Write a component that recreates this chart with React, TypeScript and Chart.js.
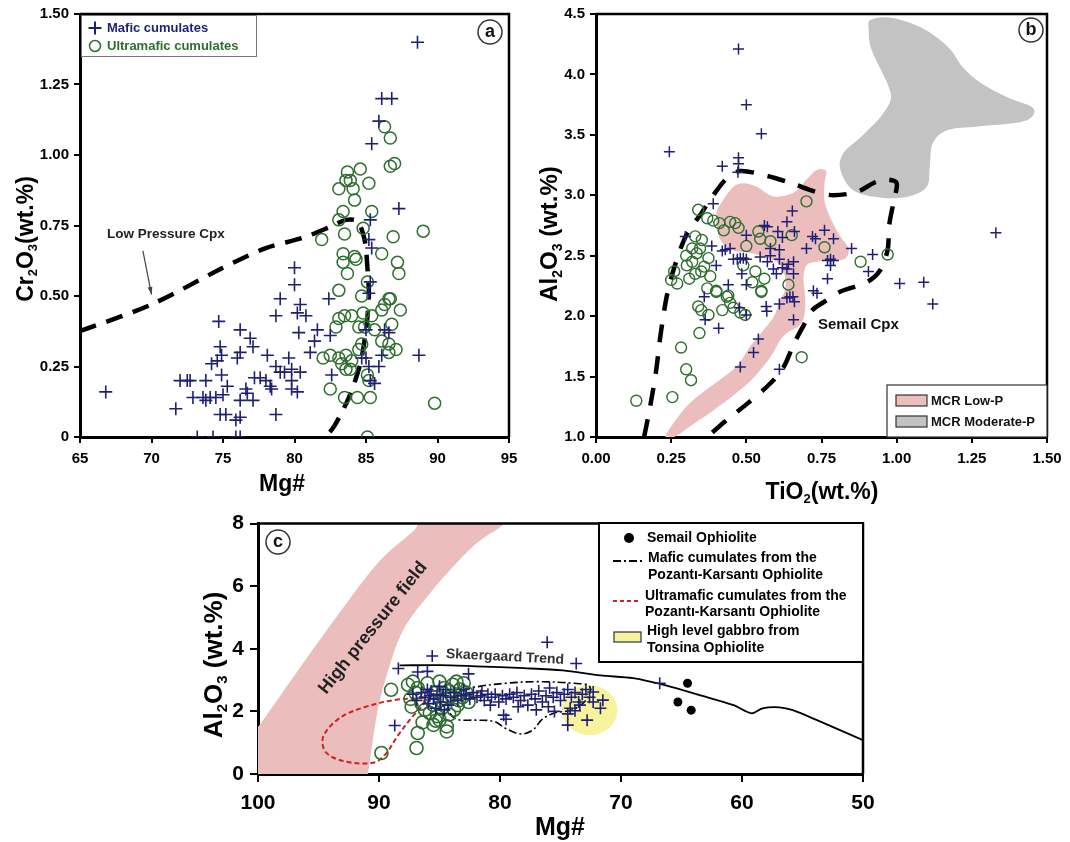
import React, { useEffect, useRef } from 'react';
import { Chart, registerables } from 'chart.js';
Chart.register(...registerables);

const FONT = '"Liberation Sans", Arial, Helvetica, sans-serif';
const NAVY = '#1f1f75';
const GREEN = '#2e6e2e';
const PINK = '#ebbdbd';
const GRAY = '#c3c3c3';
const YELLOW = '#f6f39c';
const RED = '#cc2222';

// ---------------- Panel a : Cr2O3 vs Mg# ----------------
const A_MAFIC: [number, number][] = [
  [66.8, 0.16], [71.7, 0.1], [72.0, 0.2], [72.5, 0.2], [72.7, 0.2], [73.8, 0.2], [72.9, 0.14], [73.6, 0.14],
  [74.1, 0.14], [74.5, 0.14], [73.8, 0.13], [74.2, 0.26], [74.6, 0.27], [74.7, 0.41], [74.8, 0.32], [74.9, 0.29],
  [74.9, 0.22], [75.3, 0.18], [75.0, 0.15], [74.8, 0.08], [75.2, 0.08], [73.2, 0], [74.3, 0], [75.9, 0], [76.2, 0],
  [75.9, 0.06], [76.2, 0.07], [76.2, 0.13], [76.0, 0.28], [76.2, 0.38], [76.2, 0.3], [76.9, 0.35], [77.1, 0.32],
  [76.6, 0.17], [76.7, 0.155], [77.1, 0.13], [77.2, 0.21], [77.6, 0.21], [78.1, 0.29], [78.0, 0.2], [78.4, 0.17],
  [78.3, 0.18], [78.7, 0.08], [78.7, 0.43], [79.0, 0.49], [80.0, 0.54], [80.0, 0.6], [78.7, 0.25], [79.0, 0.23],
  [79.3, 0.23], [79.6, 0.28], [79.8, 0.24], [79.8, 0.2], [79.8, 0.17], [80.2, 0.16], [80.4, 0.23], [80.3, 0.37],
  [80.2, 0.44], [80.4, 0.47], [80.8, 0.43], [81.1, 0.3], [81.4, 0.34], [81.6, 0.38], [82.4, 0.49], [82.5, 0.36],
  [82.6, 0.22], [85.2, 0.51], [85.3, 0.55], [85.0, 0.38], [84.7, 0.28], [85.2, 0.25], [85.9, 0.25], [85.3, 0.2],
  [85.6, 0.19], [85.0, 0.28], [86.1, 0.29], [86.6, 0.37], [86.3, 0.38], [88.7, 0.29], [88.6, 1.4], [86.1, 1.2],
  [86.8, 1.2], [85.9, 1.12], [85.4, 1.04], [87.3, 0.81], [85.3, 0.77], [85.2, 0.7], [85.4, 0.67],
];
const A_ULTRA: [number, number][] = [
  [86.3, 1.1], [86.7, 1.06], [86.7, 0.96], [87.0, 0.97], [83.7, 0.94], [84.6, 0.95], [83.6, 0.91], [83.9, 0.91],
  [83.1, 0.88], [84.1, 0.88], [85.2, 0.9], [84.2, 0.84], [83.4, 0.8], [85.4, 0.8], [83.1, 0.77], [84.8, 0.74],
  [83.5, 0.72], [81.9, 0.7], [86.9, 0.71], [89.0, 0.73], [83.4, 0.65], [84.2, 0.64], [84.3, 0.63], [86.1, 0.65],
  [83.4, 0.62], [87.2, 0.62], [83.7, 0.58], [85.1, 0.55], [87.3, 0.58], [83.1, 0.52], [84.7, 0.5], [86.6, 0.49],
  [86.7, 0.49], [86.3, 0.47], [87.4, 0.45], [86.1, 0.45], [83.5, 0.43], [84.0, 0.43], [83.1, 0.42], [84.8, 0.44],
  [85.4, 0.43], [84.5, 0.39], [84.9, 0.39], [85.6, 0.38], [86.8, 0.4], [82.9, 0.39], [84.7, 0.33], [86.1, 0.34],
  [86.6, 0.33], [87.1, 0.31], [86.6, 0.3], [84.5, 0.31], [82.0, 0.28], [82.5, 0.29], [83.1, 0.28], [83.6, 0.29],
  [84.0, 0.27], [83.6, 0.24], [83.9, 0.24], [83.3, 0.26], [82.5, 0.17], [83.5, 0.14], [84.4, 0.14], [85.3, 0.14],
  [85.2, 0.2], [85.1, 0.22], [89.8, 0.12], [85.1, 0],
];
const A_LOWP_CPX: [number, number][] = [
  [65, 0.375], [70, 0.47], [75, 0.6], [78, 0.67], [80.5, 0.705], [82.5, 0.745], [83.6, 0.77], [84.4, 0.765],
  [84.9, 0.7], [85.1, 0.6], [85.2, 0.5], [85.0, 0.38], [84.6, 0.26], [83.8, 0.14], [82.8, 0.04], [82.2, 0],
];
const A_ARROW: [number, number][] = [[69.4, 0.66], [70.0, 0.505]];
const A_X_TICKS = [65, 70, 75, 80, 85, 90, 95];
const A_X_LABELS = ['65', '70', '75', '80', '85', '90', '95'];
const A_Y_TICKS = [0, 0.25, 0.5, 0.75, 1.0, 1.25, 1.5];
const A_Y_LABELS = ['0', '0.25', '0.50', '0.75', '1.00', '1.25', '1.50'];

// ---------------- Panel b : Al2O3 vs TiO2 ----------------
const B_MAFIC: [number, number][] = [
  [0.474, 4.21], [0.5, 3.75], [0.55, 3.51], [0.244, 3.36], [0.474, 3.31], [0.42, 3.24], [0.474, 3.26], [0.472, 3.19],
  [0.653, 2.87], [0.635, 2.78], [0.66, 2.7], [0.76, 2.71], [0.79, 2.64], [0.73, 2.64], [0.7, 2.56], [0.85, 2.56],
  [0.92, 2.51], [1.33, 2.69], [1.01, 2.27], [1.09, 2.28], [0.906, 2.37], [0.77, 2.46], [0.78, 2.42], [0.79, 2.46],
  [0.77, 2.31], [0.39, 2.93], [0.297, 2.66], [0.385, 2.58], [0.42, 2.54], [0.43, 2.55], [0.446, 2.56], [0.457, 2.47],
  [0.47, 2.47], [0.48, 2.48], [0.49, 2.48], [0.5, 2.47], [0.5, 2.67], [0.56, 2.75], [0.605, 2.7], [0.58, 2.56],
  [0.61, 2.55], [0.546, 2.49], [0.57, 2.45], [0.59, 2.39], [0.6, 2.35], [0.635, 2.39], [0.657, 2.45], [0.4, 2.42],
  [0.44, 2.26], [0.485, 2.35], [0.5, 2.26], [0.657, 2.35], [0.36, 2.16], [0.723, 2.21], [0.735, 2.19], [0.645, 2.16],
  [0.655, 2.16], [1.12, 2.1], [0.363, 1.97], [0.408, 1.9], [0.477, 2.07], [0.5, 2.01], [0.566, 2.08], [0.568, 2.04],
  [0.61, 2.1], [0.635, 2.15], [0.66, 2.12], [0.657, 1.97], [0.54, 1.81], [0.524, 1.7], [0.48, 1.58], [0.61, 1.56],
  [0.58, 2.5], [0.61, 2.47], [0.62, 2.4], [0.64, 2.43], [0.57, 2.74], [0.62, 2.65], [0.72, 2.66], [0.78, 2.47],
];
const B_ULTRA: [number, number][] = [
  [0.7, 2.95], [0.34, 2.88], [0.37, 2.81], [0.39, 2.79], [0.41, 2.77], [0.425, 2.71], [0.446, 2.78], [0.463, 2.77],
  [0.474, 2.73], [0.54, 2.7], [0.546, 2.64], [0.651, 2.67], [0.33, 2.66], [0.352, 2.63], [0.32, 2.56], [0.335, 2.52],
  [0.346, 2.56], [0.374, 2.48], [0.302, 2.42], [0.26, 2.37], [0.25, 2.3], [0.27, 2.27], [0.31, 2.31], [0.35, 2.37],
  [0.36, 2.41], [0.5, 2.58], [0.49, 2.42], [0.53, 2.37], [0.56, 2.31], [0.55, 2.2], [0.64, 2.26], [0.76, 2.57],
  [0.88, 2.45], [0.97, 2.51], [0.37, 2.23], [0.4, 2.2], [0.44, 2.17], [0.34, 2.08], [0.35, 2.05], [0.374, 2.01],
  [0.4, 2.21], [0.435, 2.16], [0.446, 2.11], [0.42, 2.05], [0.457, 2.07], [0.48, 2.03], [0.496, 2.01], [0.55, 2.21],
  [0.344, 1.86], [0.283, 1.74], [0.3, 1.56], [0.316, 1.47], [0.254, 1.33], [0.134, 1.3], [0.684, 1.66],
  [0.3, 2.5], [0.32, 2.45], [0.33, 2.35], [0.38, 2.33], [0.52, 2.28], [0.58, 2.62],
];
const B_SEMAIL_CPX: [number, number][] = [
  [0.16, 1.0], [0.18, 1.25], [0.2, 1.55], [0.215, 1.85], [0.235, 2.16], [0.26, 2.4], [0.3, 2.67], [0.35, 2.85],
  [0.39, 3.0], [0.435, 3.14], [0.48, 3.2], [0.57, 3.16], [0.65, 3.1], [0.73, 3.03], [0.79, 3.0], [0.87, 3.03],
  [0.93, 3.11], [0.97, 3.13], [1.0, 3.1], [0.99, 2.95], [0.975, 2.75], [0.97, 2.55], [0.945, 2.38], [0.9, 2.28],
  [0.81, 2.2], [0.76, 2.12], [0.72, 2.05], [0.69, 1.92], [0.66, 1.78], [0.62, 1.56], [0.57, 1.42], [0.5, 1.27],
  [0.43, 1.13], [0.37, 1.0],
];
const B_MCR_LOWP: [number, number][] = [
  [0.4, 2.84], [0.42, 2.95], [0.457, 3.07], [0.49, 3.1], [0.535, 3.07], [0.59, 2.99], [0.657, 3.02], [0.7, 3.13],
  [0.734, 3.21], [0.765, 3.2], [0.76, 3.1], [0.76, 2.95], [0.78, 2.81], [0.81, 2.67], [0.84, 2.56], [0.83, 2.48],
  [0.79, 2.46], [0.734, 2.45], [0.7, 2.42], [0.69, 2.31], [0.695, 2.18], [0.695, 2.04], [0.68, 1.93], [0.635, 1.86],
  [0.61, 1.79], [0.58, 1.66], [0.524, 1.49], [0.47, 1.37], [0.39, 1.22], [0.325, 1.11], [0.26, 1.0], [0.23, 1.0],
  [0.28, 1.19], [0.335, 1.33], [0.41, 1.47], [0.47, 1.59], [0.51, 1.74], [0.546, 1.85], [0.59, 1.99], [0.61, 2.12],
  [0.63, 2.23], [0.625, 2.36], [0.6, 2.45], [0.52, 2.52], [0.45, 2.55], [0.41, 2.65],
];
const B_MCR_MODP: [number, number][] = [
  [0.913, 4.45], [0.98, 4.47], [1.08, 4.39], [1.17, 4.23], [1.22, 4.06], [1.28, 3.93], [1.37, 3.81], [1.45, 3.73],
  [1.45, 3.65], [1.4, 3.6], [1.27, 3.57], [1.17, 3.54], [1.12, 3.43], [1.11, 3.23], [1.1, 3.07], [1.04, 2.99],
  [0.95, 2.98], [0.857, 3.04], [0.813, 3.21], [0.823, 3.35], [0.88, 3.48], [0.947, 3.65], [0.98, 3.79],
  [0.973, 3.9], [0.947, 4.04], [0.913, 4.23], [0.907, 4.37],
];
const B_X_TICKS = [0, 0.25, 0.5, 0.75, 1.0, 1.25, 1.5];
const B_X_LABELS = ['0.00', '0.25', '0.50', '0.75', '1.00', '1.25', '1.50'];
const B_Y_TICKS = [1.0, 1.5, 2.0, 2.5, 3.0, 3.5, 4.0, 4.5];
const B_Y_LABELS = ['1.0', '1.5', '2.0', '2.5', '3.0', '3.5', '4.0', '4.5'];

// ---------------- Panel c : Al2O3 vs Mg# ----------------
const C_MAFIC: [number, number][] = [
  [88.4, 3.37], [85.6, 3.77], [86.8, 3.26], [86.0, 3.28], [82.6, 3.2], [76.1, 4.21], [73.7, 3.53], [66.8, 2.9],
  [88.7, 1.55], [79.7, 1.88], [79.5, 1.75], [74.4, 1.56], [72.8, 1.72], [71.7, 2.1], [71.5, 2.36], [72.3, 2.62],
  [74.4, 1.92], [73.8, 2.02], [73.4, 2.2], [74.2, 2.1],
  [87.2, 2.55], [86.9, 2.35], [86.5, 2.6], [86.2, 2.45], [85.9, 2.25], [85.7, 2.65], [85.5, 2.4], [85.3, 2.1],
  [85.2, 2.55], [85.0, 2.8], [84.9, 2.3], [84.7, 2.5], [84.5, 2.7], [84.3, 2.2], [84.1, 2.45], [83.8, 2.6],
  [83.5, 2.35], [83.2, 2.5], [82.8, 2.55], [82.5, 2.4], [82.2, 2.6], [81.9, 2.45], [81.6, 2.5], [81.3, 2.35],
  [81.0, 2.55], [80.7, 2.45], [80.4, 2.55], [80.1, 2.3], [79.8, 2.5], [79.5, 2.4], [79.2, 2.55], [78.9, 2.45],
  [78.6, 2.6], [78.3, 2.35], [78.0, 2.5], [77.7, 2.2], [77.4, 2.55], [77.1, 2.4], [76.8, 2.65], [76.5, 2.3],
  [76.2, 2.5], [75.9, 2.75], [75.6, 2.45], [75.3, 2.6], [75.0, 2.35], [74.7, 2.55], [74.4, 2.7], [74.1, 2.45],
  [73.8, 2.6], [73.5, 2.3], [73.2, 2.55], [72.9, 2.7], [72.6, 2.45], [72.3, 2.3], [76.0, 2.15], [77.0, 2.05],
  [75.5, 2.0], [78.5, 2.15], [80.8, 2.2], [81.5, 2.65], [83.0, 2.7], [84.6, 2.05], [85.8, 2.5], [86.0, 2.7],
];
const C_ULTRA: [number, number][] = [
  [89.0, 2.69], [89.8, 0.67], [86.9, 0.83], [86.8, 1.31], [85.5, 1.57], [84.4, 1.36], [84.4, 1.52], [85.0, 1.73],
  [87.6, 2.85], [87.2, 2.95], [87.0, 2.6], [87.4, 2.4], [86.8, 2.75], [86.5, 2.25], [86.2, 2.05], [85.8, 1.95],
  [85.5, 2.2], [85.2, 1.85], [84.8, 2.1], [84.5, 2.4], [84.2, 2.65], [83.9, 2.85], [83.6, 2.95], [83.3, 2.7],
  [83.1, 2.45], [83.5, 2.2], [83.8, 2.05], [84.0, 2.5], [83.0, 2.9], [82.8, 2.6], [84.6, 2.75], [85.0, 2.95],
  [86.0, 2.9], [85.4, 2.6], [84.9, 2.35], [83.4, 2.35], [82.6, 2.3], [84.2, 1.9], [85.3, 1.7], [86.4, 1.65],
  [87.3, 2.15],
];
const C_SEMAIL: [number, number][] = [[64.5, 2.9], [65.3, 2.3], [64.2, 2.04]];
const C_SKAERGAARD: [number, number][] = [
  [88.3, 3.47], [85, 3.48], [82, 3.44], [78, 3.38], [74.8, 3.31], [71.7, 3.15], [69, 3.06], [66.3, 2.83],
  [63.5, 2.52], [60.7, 2.2], [59.2, 1.94], [58.3, 2.1], [56.9, 2.13], [55.8, 2.04], [53.8, 1.72], [51.9, 1.4],
  [50, 1.08],
];
const C_PK_MAFIC: [number, number][] = [
  [84, 2.3], [83.2, 2.65], [81.7, 2.8], [79.5, 2.9], [77, 2.95], [74, 2.9], [72.6, 2.8], [72.8, 2.4], [74.0, 2.05],
  [75.5, 1.95], [76.5, 1.75], [77.3, 1.4], [78.3, 1.28], [79.5, 1.45], [80.5, 1.68], [82, 1.72], [83.6, 1.75],
  [84.2, 2.0], [84, 2.3],
];
const C_PK_ULTRA: [number, number][] = [
  [86.3, 2.42], [88.6, 2.37], [91.0, 2.16], [93.2, 1.8], [94.6, 1.2], [94.4, 0.7], [92.8, 0.4], [90.5, 0.36],
  [89.5, 0.62], [88.4, 1.25], [87.3, 1.8], [86.3, 2.25], [86.3, 2.42],
];
const C_HP_FIELD: [number, number][] = [
  [101, -0.5], [101, 1.0], [100, 1.5], [98.2, 2.48], [95.5, 3.96], [92.7, 5.45], [89.9, 6.83], [87.2, 7.75],
  [85.5, 8.4], [78.5, 8.6], [79.6, 8.0], [81.5, 7.5], [83.1, 6.94], [85.8, 5.77], [88, 4.6], [89.4, 3.11],
  [90.2, 1.84], [90.9, 0], [91.1, -0.5],
];
const C_TONSINA = { cx: 72.6, cy: 2.04, rx: 2.3, ry: 0.8 };
const C_X_TICKS = [100, 90, 80, 70, 60, 50];
const C_X_LABELS = ['100', '90', '80', '70', '60', '50'];
const C_Y_TICKS = [0, 2, 4, 6, 8];
const C_Y_LABELS = ['0', '2', '4', '6', '8'];

// ---------------- helpers ----------------
type Pt = [number, number];
const toXY = (arr: Pt[]) => arr.map(([x, y]) => ({ x, y }));

function catmull(ctx: CanvasRenderingContext2D, pts: Pt[], closed: boolean) {
  const n = pts.length;
  ctx.moveTo(pts[0][0], pts[0][1]);
  const last = closed ? n : n - 1;
  for (let i = 0; i < last; i++) {
    const p0 = closed ? pts[(i - 1 + n) % n] : pts[Math.max(i - 1, 0)];
    const p1 = pts[i % n];
    const p2 = pts[(i + 1) % n];
    const p3 = closed ? pts[(i + 2) % n] : pts[Math.min(i + 2, n - 1)];
    const t = 1 / 6;
    ctx.bezierCurveTo(
      p1[0] + (p2[0] - p0[0]) * t, p1[1] + (p2[1] - p0[1]) * t,
      p2[0] - (p3[0] - p1[0]) * t, p2[1] - (p3[1] - p1[1]) * t,
      p2[0], p2[1]);
  }
  if (closed) ctx.closePath();
}

function fillField(chart: any, pts: Pt[], color: string) {
  const { ctx, chartArea: a, scales } = chart;
  const pp: Pt[] = pts.map(([vx, vy]) => [scales.x.getPixelForValue(vx), scales.y.getPixelForValue(vy)]);
  ctx.save();
  ctx.beginPath();
  ctx.rect(a.left, a.top, a.right - a.left, a.bottom - a.top);
  ctx.clip();
  ctx.beginPath();
  catmull(ctx, pp, true);
  ctx.fillStyle = color;
  ctx.fill();
  ctx.restore();
}

function text(ctx: CanvasRenderingContext2D, s: string, x: number, y: number, size: number, color = '#000', align: CanvasTextAlign = 'left', rot = 0) {
  ctx.save();
  ctx.translate(x, y);
  if (rot) ctx.rotate(rot);
  ctx.font = `bold ${size}px ${FONT}`;
  ctx.fillStyle = color;
  ctx.textAlign = align;
  ctx.textBaseline = 'middle';
  ctx.fillText(s, 0, 0);
  ctx.restore();
}

type Part = [string, boolean];
function rich(ctx: CanvasRenderingContext2D, parts: Part[], cx: number, cy: number, size: number, rotate: boolean) {
  ctx.save();
  ctx.translate(cx, cy);
  if (rotate) ctx.rotate(-Math.PI / 2);
  const fMain = `bold ${size}px ${FONT}`;
  const fSub = `bold ${Math.round(size * 0.58)}px ${FONT}`;
  let w = 0;
  for (const [t, s] of parts) { ctx.font = s ? fSub : fMain; w += ctx.measureText(t).width; }
  let x = -w / 2;
  ctx.textAlign = 'left';
  ctx.textBaseline = 'alphabetic';
  ctx.fillStyle = '#000';
  const base = size * 0.35;
  for (const [t, s] of parts) {
    ctx.font = s ? fSub : fMain;
    ctx.fillText(t, x, s ? base + size * 0.18 : base);
    x += ctx.measureText(t).width;
  }
  ctx.restore();
}

function crossGlyph(ctx: CanvasRenderingContext2D, x: number, y: number, r: number, color: string, lw: number) {
  ctx.save(); ctx.strokeStyle = color; ctx.lineWidth = lw; ctx.beginPath();
  ctx.moveTo(x - r, y); ctx.lineTo(x + r, y); ctx.moveTo(x, y - r); ctx.lineTo(x, y + r); ctx.stroke(); ctx.restore();
}
function circleGlyph(ctx: CanvasRenderingContext2D, x: number, y: number, r: number, color: string, lw: number, fill?: string) {
  ctx.save(); ctx.beginPath(); ctx.arc(x, y, r, 0, Math.PI * 2);
  if (fill) { ctx.fillStyle = fill; ctx.fill(); }
  if (lw > 0) { ctx.strokeStyle = color; ctx.lineWidth = lw; ctx.stroke(); }
  ctx.restore();
}
function panelLetter(ctx: CanvasRenderingContext2D, x: number, y: number, s: string) {
  circleGlyph(ctx, x, y, 12, '#333', 1.5, '#fff');
  text(ctx, s, x, y + 0.5, 18, '#111', 'center');
}
function frame(chart: any) {
  const { ctx, chartArea: a } = chart;
  ctx.save(); ctx.strokeStyle = '#000'; ctx.lineWidth = 2.5; ctx.beginPath();
  ctx.moveTo(a.left, a.top); ctx.lineTo(a.right, a.top); ctx.lineTo(a.right, a.bottom); ctx.stroke(); ctx.restore();
}

function axis(ticks: number[], labels: string[], min: number, max: number, size: number, fixed: number, isX: boolean, tickLen: number, pad: number, reverse = false) {
  return {
    type: 'linear', min, max, reverse,
    afterBuildTicks: (s: any) => { s.ticks = ticks.map((v) => ({ value: v })); },
    afterFit: (s: any) => { if (isX) s.height = fixed; else s.width = fixed; },
    ticks: {
      callback: (v: number) => { const i = ticks.findIndex((t) => Math.abs(t - v) < 1e-9); return i >= 0 ? labels[i] : ''; },
      font: { size, weight: 'bold', family: FONT }, color: '#000', padding: pad, autoSkip: false, maxRotation: 0,
    },
    grid: { drawOnChartArea: false, drawTicks: true, tickLength: tickLen, color: '#000', lineWidth: 2 },
    border: { display: true, color: '#000', width: 3 },
  };
}

function pointsDS(data: Pt[], style: string, r: number, color: string, lw: number, order: number, fill = 'rgba(0,0,0,0)') {
  return {
    data: toXY(data), showLine: false, pointStyle: style, pointRadius: r, pointHoverRadius: r,
    pointBorderColor: color, pointBackgroundColor: fill, pointBorderWidth: lw, borderColor: color, order,
  };
}
function lineDS(data: Pt[], color: string, width: number, dash: number[], order: number, tension = 0.35) {
  return {
    data: toXY(data), showLine: true, pointRadius: 0, pointHoverRadius: 0, borderColor: color, borderWidth: width,
    borderDash: dash, tension, fill: false, order, borderCapStyle: 'butt',
  };
}

const baseOptions = (padding: any, scales: any) => ({
  animation: false, responsive: false, maintainAspectRatio: false,
  layout: { padding },
  plugins: { legend: { display: false }, tooltip: { enabled: false } },
  events: [],
  scales,
});

// Canvas placement on the page
const A_POS = { left: 0, top: 0, w: 530, h: 505 };
const B_POS = { left: 530, top: 0, w: 540, h: 505 };
const C_POS = { left: 150, top: 505, w: 920, h: 337 };

export default function App() {
  const ra = useRef<HTMLCanvasElement>(null);
  const rb = useRef<HTMLCanvasElement>(null);
  const rc = useRef<HTMLCanvasElement>(null);

  useEffect(() => {
    document.body.style.margin = '0';
    Chart.defaults.font.family = FONT;

    // ---- Panel a ----
    const plugA = {
      id: 'plugA',
      afterDraw(chart: any) {
        const ctx = chart.ctx; const o = A_POS;
        frame(chart);
        const sx = chart.scales.x, sy = chart.scales.y;
        const [p1, p2] = A_ARROW.map(([x, y]) => [sx.getPixelForValue(x), sy.getPixelForValue(y)]);
        ctx.save(); ctx.strokeStyle = '#444'; ctx.fillStyle = '#444'; ctx.lineWidth = 1.2;
        ctx.beginPath(); ctx.moveTo(p1[0], p1[1]); ctx.lineTo(p2[0], p2[1]); ctx.stroke();
        const ang = Math.atan2(p2[1] - p1[1], p2[0] - p1[0]);
        ctx.beginPath(); ctx.moveTo(p2[0], p2[1]);
        ctx.lineTo(p2[0] - 8 * Math.cos(ang - 0.3), p2[1] - 8 * Math.sin(ang - 0.3));
        ctx.lineTo(p2[0] - 8 * Math.cos(ang + 0.3), p2[1] - 8 * Math.sin(ang + 0.3));
        ctx.closePath(); ctx.fill(); ctx.restore();
        text(ctx, 'Low Pressure Cpx', 107 - o.left, 234 - o.top, 13.5, '#222');
        ctx.save(); ctx.fillStyle = '#fff'; ctx.strokeStyle = '#777'; ctx.lineWidth = 1;
        ctx.fillRect(81.5, 15.5, 175, 41); ctx.strokeRect(81.5, 15.5, 175, 41); ctx.restore();
        crossGlyph(ctx, 95, 28, 6.5, NAVY, 2);
        text(ctx, 'Mafic cumulates', 107, 28, 13, NAVY);
        circleGlyph(ctx, 95, 46, 5.5, GREEN, 1.5);
        text(ctx, 'Ultramafic cumulates', 107, 46, 13, GREEN);
        panelLetter(ctx, 490 - o.left, 32 - o.top, 'a');
        rich(ctx, [['Cr', false], ['2', true], ['O', false], ['3', true], ['(wt.%)', false]], 25 - o.left, 239 - o.top, 23, true);
        rich(ctx, [['Mg#', false]], 282 - o.left, 483 - o.top, 23, false);
      },
    };
    const chartA = new Chart(ra.current as HTMLCanvasElement, {
      type: 'scatter',
      data: {
        datasets: [
          pointsDS(A_MAFIC, 'cross', 6.5, NAVY, 1.6, 0),
          pointsDS(A_ULTRA, 'circle', 6, GREEN, 1.5, 1),
          lineDS(A_LOWP_CPX, '#000', 4.5, [17, 11], 2, 0.3),
        ] as any,
      },
      options: baseOptions({ left: 0, top: 14, right: 21, bottom: 0 }, {
        x: axis(A_X_TICKS, A_X_LABELS, 65, 95, 15, 505 - 437, true, 6, 7),
        y: axis(A_Y_TICKS, A_Y_LABELS, 0, 1.5, 15, 80, false, 6, 5),
      }) as any,
      plugins: [plugA],
    });

    // ---- Panel b ----
    const plugB = {
      id: 'plugB',
      beforeDatasetsDraw(chart: any) {
        fillField(chart, B_MCR_MODP, GRAY);
        fillField(chart, B_MCR_LOWP, PINK);
      },
      afterDraw(chart: any) {
        const ctx = chart.ctx; const o = B_POS;
        frame(chart);
        text(ctx, 'Semail Cpx', 818 - o.left, 325 - o.top, 15, '#111');
        const L = 887 - o.left, T = 385 - o.top;
        ctx.save(); ctx.fillStyle = '#fff'; ctx.strokeStyle = '#333'; ctx.lineWidth = 1.2;
        ctx.fillRect(L, T, 160, 52); ctx.strokeRect(L, T, 160, 52);
        ctx.fillStyle = PINK; ctx.fillRect(L + 9, T + 10, 31, 11); ctx.strokeRect(L + 9, T + 10, 31, 11);
        ctx.fillStyle = GRAY; ctx.fillRect(L + 9, T + 31, 31, 11); ctx.strokeRect(L + 9, T + 31, 31, 11);
        ctx.restore();
        text(ctx, 'MCR Low-P', L + 44, T + 16, 13, '#111');
        text(ctx, 'MCR Moderate-P', L + 44, T + 37, 13, '#111');
        panelLetter(ctx, 1031 - o.left, 30 - o.top, 'b');
        rich(ctx, [['Al', false], ['2', true], ['O', false], ['3', true], [' (wt.%)', false]], 549 - o.left, 234 - o.top, 24, true);
        rich(ctx, [['TiO', false], ['2', true], ['(wt.%)', false]], 822 - o.left, 491 - o.top, 23, false);
      },
    };
    const chartB = new Chart(rb.current as HTMLCanvasElement, {
      type: 'scatter',
      data: {
        datasets: [
          pointsDS(B_MAFIC, 'cross', 5.5, NAVY, 1.5, 0),
          pointsDS(B_ULTRA, 'circle', 5.5, GREEN, 1.4, 1),
          lineDS(B_SEMAIL_CPX, '#000', 4.5, [18, 14], 2, 0.3),
        ] as any,
      },
      options: baseOptions({ left: 0, top: 14, right: 23, bottom: 0 }, {
        x: axis(B_X_TICKS, B_X_LABELS, 0, 1.5, 15, 505 - 437, true, 6, 7),
        y: axis(B_Y_TICKS, B_Y_LABELS, 1.0, 4.5, 15, 66, false, 6, 5),
      }) as any,
      plugins: [plugB],
    });

    // ---- Panel c ----
    const plugC = {
      id: 'plugC',
      beforeDatasetsDraw(chart: any) {
        fillField(chart, C_HP_FIELD, PINK);
        const { ctx, scales } = chart;
        const cx = scales.x.getPixelForValue(C_TONSINA.cx), cy = scales.y.getPixelForValue(C_TONSINA.cy);
        const rx = Math.abs(scales.x.getPixelForValue(C_TONSINA.cx + C_TONSINA.rx) - cx);
        const ry = Math.abs(scales.y.getPixelForValue(C_TONSINA.cy + C_TONSINA.ry) - cy);
        ctx.save(); ctx.beginPath(); ctx.ellipse(cx, cy, rx, ry, 0, 0, Math.PI * 2); ctx.fillStyle = YELLOW; ctx.fill(); ctx.restore();
        const o = C_POS;
        text(ctx, 'High pressure field', 373 - o.left, 628 - o.top, 18, '#222', 'center', -0.9);
        text(ctx, 'Skaergaard Trend', 505 - o.left, 657 - o.top, 14, '#333', 'center', 0.05);
      },
      afterDraw(chart: any) {
        const ctx = chart.ctx; const o = C_POS;
        frame(chart);
        const L = 599 - o.left, T = 523 - o.top;
        ctx.save(); ctx.fillStyle = '#fff'; ctx.strokeStyle = '#000'; ctx.lineWidth = 2;
        ctx.fillRect(L, T, 264, 139); ctx.strokeRect(L, T, 264, 139); ctx.restore();
        circleGlyph(ctx, L + 30, T + 15, 5, '#000', 0, '#000');
        text(ctx, 'Semail Ophiolite', L + 48, T + 15, 14);
        ctx.save(); ctx.strokeStyle = '#000'; ctx.lineWidth = 2; ctx.setLineDash([8, 3, 2, 3]);
        ctx.beginPath(); ctx.moveTo(L + 14, T + 38); ctx.lineTo(L + 43, T + 38); ctx.stroke();
        ctx.strokeStyle = RED; ctx.setLineDash([4, 3]);
        ctx.beginPath(); ctx.moveTo(L + 14, T + 78); ctx.lineTo(L + 42, T + 78); ctx.stroke();
        ctx.setLineDash([]); ctx.fillStyle = YELLOW; ctx.strokeStyle = '#333'; ctx.lineWidth = 1.2;
        ctx.fillRect(L + 15, T + 109, 27, 10); ctx.strokeRect(L + 15, T + 109, 27, 10);
        ctx.restore();
        text(ctx, 'Mafic cumulates from the', L + 49, T + 35, 14);
        text(ctx, 'Pozantı-Karsantı Ophiolite', L + 49, T + 52, 14);
        text(ctx, 'Ultramafic cumulates from the', L + 46, T + 73, 14);
        text(ctx, 'Pozantı-Karsantı Ophiolite', L + 46, T + 89, 14);
        text(ctx, 'High level gabbro from', L + 48, T + 108, 14);
        text(ctx, 'Tonsina Ophiolite', L + 48, T + 125, 14);
        panelLetter(ctx, 278 - o.left, 542 - o.top, 'c');
        rich(ctx, [['Al', false], ['2', true], ['O', false], ['3', true], [' (wt.%)', false]], 213 - o.left, 665 - o.top, 26, true);
        rich(ctx, [['Mg#', false]], 560 - o.left, 826 - o.top, 25, false);
      },
    };
    const chartC = new Chart(rc.current as HTMLCanvasElement, {
      type: 'scatter',
      data: {
        datasets: [
          pointsDS(C_MAFIC, 'cross', 6, NAVY, 1.6, 0),
          pointsDS(C_SEMAIL, 'circle', 4.5, '#000', 0, 1, '#000'),
          pointsDS(C_ULTRA, 'circle', 6.5, GREEN, 1.6, 2),
          lineDS(C_SKAERGAARD, '#000', 1.8, [], 3, 0.3),
          lineDS(C_PK_MAFIC, '#000', 1.6, [8, 3, 2, 3], 4, 0.35),
          lineDS(C_PK_ULTRA, RED, 2, [5, 3], 5, 0.35),
        ] as any,
      },
      options: baseOptions({ left: 0, top: 18, right: 207, bottom: 0 }, {
        x: axis(C_X_TICKS, C_X_LABELS, 50, 100, 21, 337 - 269, true, 8, 9, true),
        y: axis(C_Y_TICKS, C_Y_LABELS, 0, 8, 21, 108, false, 8, 6),
      }) as any,
      plugins: [plugC],
    });

    return () => { chartA.destroy(); chartB.destroy(); chartC.destroy(); };
  }, []);

  const st = (p: any): React.CSSProperties => ({ position: 'absolute', left: p.left, top: p.top, width: p.w, height: p.h });
  return (
    <div style={{ position: 'absolute', left: 0, top: 0, width: 1070, height: 842, background: '#fff' }}>
      <canvas ref={ra} width={A_POS.w} height={A_POS.h} style={st(A_POS)} />
      <canvas ref={rb} width={B_POS.w} height={B_POS.h} style={st(B_POS)} />
      <canvas ref={rc} width={C_POS.w} height={C_POS.h} style={st(C_POS)} />
    </div>
  );
}
